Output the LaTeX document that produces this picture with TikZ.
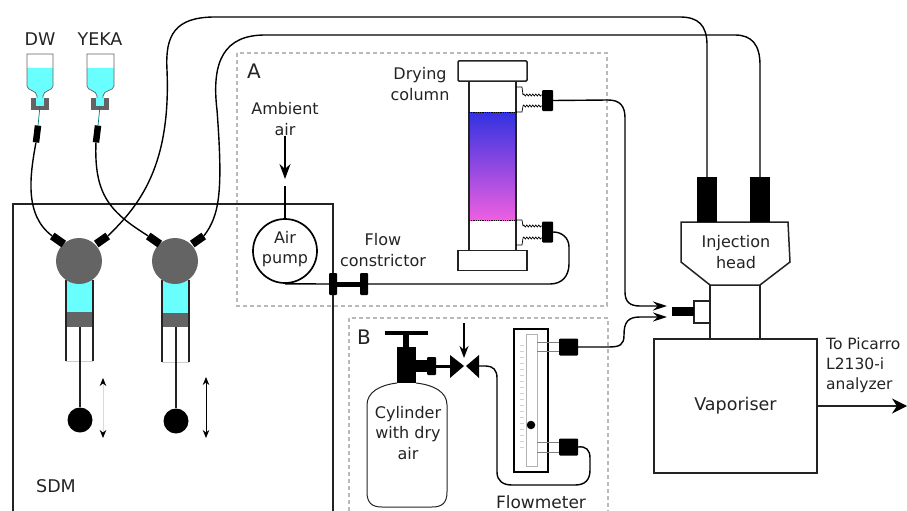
\documentclass[tikz,border=0pt]{standalone}
\usepackage{fontspec}
\setmainfont{DejaVu Sans}
\usetikzlibrary{arrows.meta,decorations.pathmorphing}
\definecolor{water}{RGB}{105,255,255}
\definecolor{steel}{RGB}{100,100,100}
\definecolor{ink}{RGB}{35,35,35}
\begin{document}
\begin{tikzpicture}[
  x=1pt, y=-1pt,
  lbl/.style={font=\fontsize{16}{20.5}\selectfont, text=ink, align=center, inner sep=0pt},
  biglbl/.style={font=\fontsize{17.5}{20.5}\selectfont, text=ink, align=center, inner sep=0pt},
  plug/.style={rectangle, fill=black, inner sep=0pt},
  tube/.style={line width=1.4pt, black},
  wall/.style={line width=1.5pt, ink},
  box/.style={rectangle, draw=ink, line width=1.5pt, inner sep=0pt},
  panel/.style={draw=gray!55, line width=1.1pt, dash pattern=on 4pt off 3pt},
  spring/.style={line width=0.7pt, decorate, decoration={zigzag, amplitude=1pt, segment length=3pt}},
  head/.style={circle, fill=steel, minimum size=46pt, inner sep=0pt},
  ball/.style={circle, fill=black, minimum size=25pt, inner sep=0pt},
  travel/.style={line width=0.9pt, {Stealth[black,length=8pt,width=6.5pt]}-{Stealth[black,length=8pt,width=6.5pt]}}
]
\useasboundingbox (0,0) rectangle (907,511);

% dashed panels and SDM box
\draw[panel] (237,53) rectangle (607,306);
\draw[panel] (349,511) -- (349,318) -- (608,318) -- (608,511);
\draw[line width=1.6pt, ink] (13,511) -- (13,204) -- (333,204) -- (333,511);
\node[lbl] (panelA) at (254,71) {\fontsize{20}{20}\selectfont A};
\node[lbl] (panelB) at (364,337) {\fontsize{20}{20}\selectfont B};
\node[biglbl] (sdm) at (56,486) {SDM};

% bottles
\node[biglbl] (dw) at (40,39) {DW};
\node[biglbl] (yeka) at (100,39) {YEKA};
\fill[water] (27,68) -- (27,86) .. controls (27,91) and (37,90) .. (37,96) -- (37,106) -- (43,106) -- (43,96) .. controls (43,90) and (53,91) .. (53,86) -- (53,68) -- cycle;
\draw[line width=0.7pt, steel] (27,54) -- (27,86) .. controls (27,91) and (37,90) .. (37,96) -- (37,106) -- (43,106) -- (43,96) .. controls (43,90) and (53,91) .. (53,86) -- (53,54) -- cycle;
\fill[steel] (31,98) rectangle (49,110);
\fill[water] (36,98) rectangle (44,106);
\fill[water] (87,68) -- (87,86) .. controls (87,91) and (97,90) .. (97,96) -- (97,106) -- (103,106) -- (103,96) .. controls (103,90) and (114,91) .. (114,86) -- (114,68) -- cycle;
\draw[line width=0.7pt, steel] (87,54) -- (87,86) .. controls (87,91) and (97,90) .. (97,96) -- (97,106) -- (103,106) -- (103,96) .. controls (103,90) and (114,91) .. (114,86) -- (114,54) -- cycle;
\fill[steel] (91,98) rectangle (109,110);
\fill[water] (96,98) rectangle (104,106);
\node[plug, minimum width=6.5pt, minimum height=17pt, rotate=-7] (dwplug) at (37,134) {};
\node[plug, minimum width=6.5pt, minimum height=17pt, rotate=-7] (yekaplug) at (97,134) {};
\draw[line width=0.7pt, teal] (40,106) -- (dwplug.north);
\draw[line width=0.7pt, teal] (100,106) -- (yekaplug.north);

% syringes
\fill[water] (66,280) rectangle (93,312);
\fill[steel] (66,312) rectangle (93,327);
\draw[line width=0.6pt, gray!40] (66,361) -- (93,361);
\draw[wall] (66,280) -- (66,361);
\draw[wall] (93,280) -- (93,361);
\fill[water] (162,280) rectangle (189,313);
\fill[steel] (162,313) rectangle (189,327);
\draw[line width=0.6pt, gray!40] (162,362) -- (189,362);
\draw[wall] (162,280) -- (162,362);
\draw[wall] (189,280) -- (189,362);
\node[head] (headA) at (79,261) {};
\node[head] (headB) at (175,261) {};
\node[ball] (ballA) at (80,420) {};
\node[ball] (ballB) at (176,421) {};
\draw[wall] (80,327) -- (ballA);
\draw[wall] (176,327) -- (ballB);
\draw[travel, gray!30] (103,378) -- (103,438);
\draw[travel, black] (206,377) -- (206,438);
\node[plug, minimum width=14pt, minimum height=8pt, rotate=-35] (plugA) at (58,240) {};
\node[plug, minimum width=14pt, minimum height=8pt, rotate=35] (plugB) at (102,240) {};
\node[plug, minimum width=14pt, minimum height=8pt, rotate=-35] (plugC) at (154,240) {};
\node[plug, minimum width=14pt, minimum height=8pt, rotate=35] (plugD) at (198,240) {};

% injection head and vaporiser
\node[box, fill=white, minimum width=50pt, minimum height=54pt] (throat) at (735,312) {};
\draw[wall, fill=white] (681,222) -- (788,222) -- (790,262) -- (760,285) -- (710,285) -- (681,262) -- cycle;
\node[lbl] (injection) at (736,252) {Injection\\head};
\node[plug, minimum width=20pt, minimum height=45pt] (injA) at (707,199.5) {};
\node[plug, minimum width=20pt, minimum height=45pt] (injB) at (760,199.5) {};
\node[box, minimum width=16pt, minimum height=22pt] (port) at (702,312) {};
\node[plug, minimum width=22pt, minimum height=9pt] (portplug) at (683,311.5) {};
\node[box, minimum width=163pt, minimum height=134pt, font=\fontsize{17.5}{20}\selectfont, text=ink] (vaporiser) at (735.5,406) {Vaporiser};
\node[lbl, font=\fontsize{15.5}{20}\selectfont, align=left, anchor=north west] (picarro) at (826,338) {To Picarro\\L2130-i\\analyzer};
\coordinate (outlet) at (907,406);
\draw[line width=1.5pt, ink, -{Stealth[black,length=15pt,width=15pt]}] (vaporiser.east) -- (outlet);

% long tubes to injection head
\draw[tube] (dwplug.south) .. controls (30,175) and (24,215) .. (plugA.west);
\draw[tube] (yekaplug.south) .. controls (94,195) and (110,212) .. (plugC.west);
\draw[tube] (plugB.east) .. controls (140,205) and (171,165) .. (167,70) .. controls (165,35) and (175,17) .. (215,17) -- (680,17) .. controls (698,17) and (707,25) .. (707,45) -- (injA.north);
\draw[tube] (plugD.east) .. controls (220,215) and (223,190) .. (217,110) .. controls (211,60) and (225,35) .. (265,35) -- (735,35) .. controls (752,35) and (760,45) .. (760,65) -- (injB.north);

% panel A: pump and constrictor
\node[lbl] (ambient) at (285,119) {Ambient\\air};
\coordinate (airtip) at (285,179);
\draw[line width=1.3pt, -{Stealth[length=15pt,width=11pt]}] (ambient.south) -- (airtip);
\node[circle, draw=black, line width=1.7pt, minimum size=64pt, inner sep=0pt] (pump) at (285,251) {};
\node[lbl] (pumplbl) at (285,249) {Air\\pump};
\coordinate (pumpin) at (285,186);
\draw[tube] (pumpin) -- (pump.north);
\node[plug, rounded corners=1pt, minimum width=8pt, minimum height=22pt] (flowA) at (333,284) {};
\node[plug, rounded corners=1pt, minimum width=8pt, minimum height=22pt] (flowB) at (364,284) {};
\draw[line width=5pt] (flowA) -- (flowB);
\draw[tube] (pump.south) -- (flowA);
\node[lbl] (constrictor) at (383,250) {Flow\\constrictor};

% drying column
\node[lbl] (drying) at (420,84) {Drying\\column};
\shade[top color={rgb,255:red,50;green,50;blue,225}, bottom color={rgb,255:red,238;green,95;blue,225}] (469,112) rectangle (516,220);
\draw[wall] (469,81) -- (469,251);
\draw[wall] (516,81) -- (516,251);
\draw[line width=0.8pt, densely dotted] (469,112) -- (516,112);
\draw[line width=0.8pt, densely dotted] (469,220) -- (516,220);
\node[box, rounded corners=1pt, minimum width=69pt, minimum height=20pt] (captop) at (492.5,71) {};
\node[box, minimum width=69pt, minimum height=20pt] (capbot) at (492.5,260.5) {};
\node[plug, rounded corners=1pt, minimum width=11pt, minimum height=21pt] (colplugA) at (547.5,100.5) {};
\node[plug, rounded corners=1pt, minimum width=11pt, minimum height=21pt] (colplugB) at (547.5,232) {};
\draw[line width=0.7pt] (516,87) -- (522,87) -- (523,95);
\draw[line width=0.7pt] (516,112) -- (522,112) -- (523,106);
\draw[spring] (523,95) -- (colplugA.west |- 0,95);
\draw[spring] (523,106) -- (colplugA.west |- 0,106);
\draw[line width=0.7pt] (516,220) -- (522,220) -- (523,226);
\draw[line width=0.7pt] (516,245) -- (522,245) -- (523,238);
\draw[spring] (523,226) -- (colplugB.west |- 0,226);
\draw[spring] (523,238) -- (colplugB.west |- 0,238);
\draw[tube] (flowB.east) -- (550,284) .. controls (562,284) and (569,276) .. (569,264) -- (569,247) .. controls (569,238) and (562,232) .. (colplugB.east);

% panel B: cylinder, valve, flowmeter
\draw[line width=1pt, ink] (397,383) .. controls (380,385) and (367,392) .. (367,405) -- (367,492) .. controls (367,503) and (372,507) .. (382,507) -- (432,507) .. controls (442,507) and (447,503) .. (447,492) -- (447,405) .. controls (447,392) and (434,385) .. (416,383);
\node[lbl] (cylinder) at (408,433) {Cylinder\\with dry\\air};
\fill[black] (397,347) rectangle (416,383);
\fill[black] (403,335) rectangle (409,347);
\fill[black] (385,331) rectangle (428,335);
\fill[black] (416,360) rectangle (427,372);
\node[plug, rounded corners=1pt, minimum width=9pt, minimum height=18pt] (regplug) at (431.5,366) {};
\coordinate (valveL) at (451,366);
\coordinate (valveR) at (479,366);
\fill[black] (450,355) -- (464,366) -- (450,378) -- cycle;
\fill[black] (479,355) -- (466,366) -- (479,378) -- cycle;
\draw[line width=3pt] (regplug.east) -- (valveL);
\coordinate (valvetop) at (464,323);
\coordinate (valvetip) at (464,358);
\draw[line width=1.3pt, -{Stealth[length=12pt,width=9pt]}] (valvetop) -- (valvetip);
\node[rectangle, draw=black, line width=1.8pt, minimum width=34pt, minimum height=143pt, inner sep=0pt] (flowmeter) at (531,400.5) {};
\draw[line width=0.6pt, gray!60] (526,334) rectangle (537,466);
\foreach \y in {345,351,...,447} {\draw[line width=0.5pt, gray!35] (520,\y) -- (524,\y);}
\node[circle, fill=black, minimum size=8.5pt, inner sep=0pt] (fmball) at (531,425) {};
\node[plug, rounded corners=1pt, minimum width=19pt, minimum height=17pt] (fmtop) at (568.5,347) {};
\node[plug, rounded corners=1pt, minimum width=19pt, minimum height=17pt] (fmbot) at (568.5,447) {};
\draw[line width=0.6pt, gray] (537,342) -- (559,342);
\draw[line width=0.6pt, gray] (537,351) -- (559,351);
\draw[line width=0.6pt, gray] (537,442) -- (559,442);
\draw[line width=0.6pt, gray] (537,452) -- (559,452);
\draw[tube] (valveR) -- (486,366) .. controls (493,366) and (497,370) .. (497,378) -- (497,472) .. controls (497,481) and (503,485) .. (512,485) -- (575,485) .. controls (585,485) and (590,480) .. (590,470) -- (590,458) .. controls (590,450) and (586,446) .. (fmbot.east);
\node[lbl, font=\fontsize{17}{20}\selectfont] (flowlbl) at (541,502) {Flowmeter};

% inlet tubes
\coordinate (inletA) at (667,306);
\coordinate (inletB) at (667,317);
\draw[tube, -{Stealth[length=14pt,width=9pt]}] (colplugA.east) -- (608,100) .. controls (620,100) and (625,106) .. (625,118) -- (625,292) .. controls (625,302) and (630,306) .. (640,306) -- (inletA);
\draw[tube, -{Stealth[length=14pt,width=9pt]}] (fmtop.east) -- (608,347) .. controls (620,347) and (624,345) .. (624,335) .. controls (624,322) and (628,317) .. (640,317) -- (inletB);
\end{tikzpicture}
\end{document}
